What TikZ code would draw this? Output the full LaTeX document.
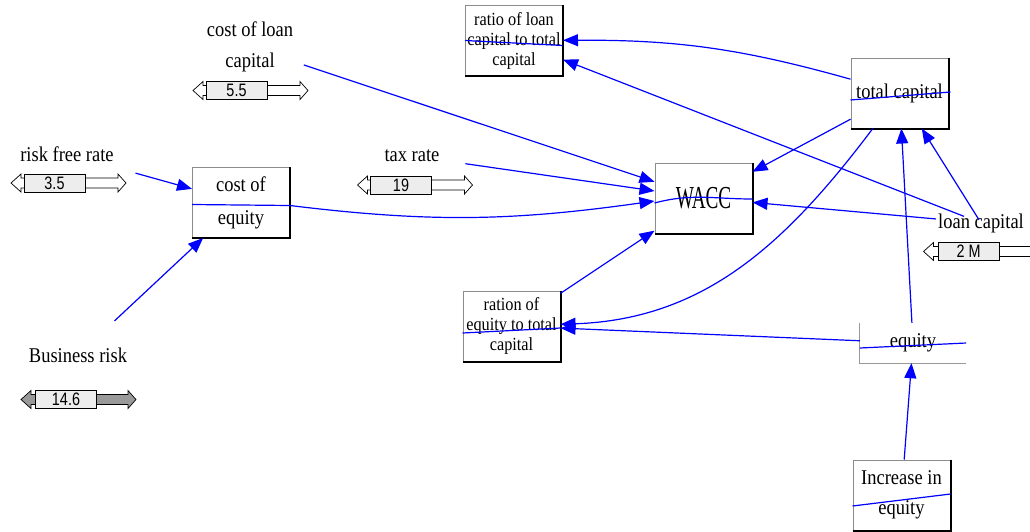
\documentclass[tikz,border=0pt]{standalone}
\usepackage{fontspec}
\setmainfont{Liberation Serif}[FakeStretch=0.88]
\newfontfamily\numfont{Liberation Sans}[FakeStretch=0.8]
\newfontfamily\waccfont{Liberation Serif}[FakeStretch=0.6]
\usetikzlibrary{arrows.meta}
\begin{document}
\begin{tikzpicture}[x=1pt, y=1pt, line join=miter,
box/.style={draw=black!45, fill=white, line width=1pt, minimum width=97pt, minimum height=70pt, inner sep=0pt, align=center, font=\fontsize{21}{33}\selectfont},
small box/.style={box, font=\fontsize{18.5}{20}\selectfont},
open box/.style={minimum width=106pt, minimum height=40pt, inner sep=0pt, font=\fontsize{21}{21}\selectfont},
rim/.style={draw=black, line width=2pt},
lab/.style={align=center, inner sep=2pt, font=\fontsize{21}{31}\selectfont},
bar/.style={draw=black, fill=#1, line width=0.7pt},
value/.style={draw=black, fill=black!7, line width=1pt, minimum width=61pt, minimum height=18pt, inner sep=0pt, font=\numfont\fontsize{18}{18}\selectfont},
link/.style={draw=blue, line width=1.2pt, -{Triangle[length=15pt,width=12pt]}},
thru/.style={draw=blue, line width=1.2pt}]
\useasboundingbox (0,0) rectangle (1030,-531);
\begin{scope}
\node[lab] (col) at (250,-47) {cost of loan\\capital};
\node[lab] (rfr) at (67,-154) {risk free rate};
\node[lab] (br) at (78,-355) {Business risk};
\node[lab] (tax) at (412,-156) {tax rate};
\node[lab] (loan) at (981,-223) {loan capital};
\node[box] (coe) at (241,-202.5) {cost of\\equity};
\node[box, font=\waccfont\fontsize{32}{32}\selectfont] (wacc) at (703.5,-198) {WACC};
\node[small box] (rlc) at (514,-40.5) {ratio of loan\\capital to total\\capital};
\node[box] (tc) at (899.5,-93) {total capital};
\node[small box] (reqc) at (511.5,-326) {ration of\\equity to total\\capital};
\node[open box] (eq) at (913,-343) {equity};
\node[box, font=\fontsize{21}{30}\selectfont] (inc) at (901.5,-495) {Increase in\\equity};
\draw[black!40, line width=1pt] (eq.north west) -- (eq.south west) -- (eq.south east);
\draw[rim] (coe.north east) -- (coe.south east) -- (coe.south west);
\draw[rim] (wacc.north east) -- (wacc.south east) -- (wacc.south west);
\draw[rim] (rlc.north east) -- (rlc.south east) -- (rlc.south west);
\draw[rim] (tc.north east) -- (tc.south east) -- (tc.south west);
\draw[rim] (reqc.north east) -- (reqc.south east) -- (reqc.south west);
\draw[rim] (inc.north east) -- (inc.south east) -- (inc.south west);
%\node[box] () at (,) {};
\end{scope}
\begin{scope}
\draw[bar=white] (236.5,-90.5) ++(-43.5,0) -- ++(10,9) -- ++(0,-4) -- ++(97,0) -- ++(0,4) -- ++(8,-9) -- ++(-8,-9) -- ++(0,4) -- ++(-97,0) -- ++(0,-4) -- cycle;
\draw[bar=white] (54.5,-183) ++(-43.5,0) -- ++(10,9) -- ++(0,-4) -- ++(97,0) -- ++(0,4) -- ++(8,-9) -- ++(-8,-9) -- ++(0,4) -- ++(-97,0) -- ++(0,-4) -- cycle;
\draw[bar=white] (401,-185) ++(-43.5,0) -- ++(10,9) -- ++(0,-4) -- ++(97,0) -- ++(0,4) -- ++(8,-9) -- ++(-8,-9) -- ++(0,4) -- ++(-97,0) -- ++(0,-4) -- cycle;
\draw[bar=white] (968.5,-251.5) ++(-45,0) -- ++(10,9) -- ++(0,-4) -- ++(97,0) -- ++(0,4) -- ++(8,-9) -- ++(-8,-9) -- ++(0,4) -- ++(-97,0) -- ++(0,-4) -- cycle;
\draw[bar=black!40] (66,-399.5) ++(-45,0) -- ++(10,9) -- ++(0,-4) -- ++(97,0) -- ++(0,4) -- ++(8,-9) -- ++(-8,-9) -- ++(0,4) -- ++(-97,0) -- ++(0,-4) -- cycle;
\node[value] (col-v) at (236.5,-90.5) {5.5};
\node[value] (rfr-v) at (54.5,-183) {3.5};
\node[value] (tax-v) at (401,-185) {19};
\node[value] (loan-v) at (968.5,-251.5) {2 M};
\node[value] (br-v) at (66,-399.5) {14.6};
\end{scope}
\begin{scope}
\draw (rfr) edge[link, shorten <=35pt] (coe);
\draw (br) edge[link, shorten <=36pt] (coe);
\draw (col) edge[link, shorten <=9pt] (wacc);
\draw (tax) edge[link, shorten <=24pt] (wacc);
\draw ([yshift=-3pt]coe.east) edge[link, out=-7, in=188] ([yshift=-3pt]wacc.west);
\draw (reqc) edge[link] (wacc);
\draw (tc) edge[link] (wacc);
\draw (loan) edge[link] (wacc);
\draw (tc) edge[link, bend right=8] (rlc);
\draw (loan) edge[link, shorten <=-14pt] (rlc);
\draw (loan) edge[link, shorten <=-10pt] (tc);
\draw (tc) edge[link, out=-127, in=2] (reqc);
\draw (eq) edge[link] (reqc);
\draw (eq) edge[link] (tc);
\draw (inc) edge[link] (eq);
%\draw (v) edge[link] (v);
\end{scope}
\begin{scope}
\draw[thru] (rlc.west) -- ([yshift=-5pt]rlc.east);
\draw[thru] ([yshift=-2pt]coe.west) -- ([yshift=-3pt]coe.east);
\draw[thru] ([yshift=-5pt]wacc.west) to[out=15, in=180] ([yshift=-1pt]wacc.east);
\draw[thru] ([yshift=-7pt]tc.west) -- ([xshift=2pt, yshift=1pt]tc.east);
\draw[thru] ([yshift=-7pt]reqc.west) -- ([yshift=-2pt]reqc.east);
\draw[thru] ([yshift=-5pt]eq.west) -- (eq.east);
\draw[thru] ([yshift=-11pt]inc.west) -- ([yshift=1pt]inc.east);
\end{scope}
\end{tikzpicture}
\end{document}
